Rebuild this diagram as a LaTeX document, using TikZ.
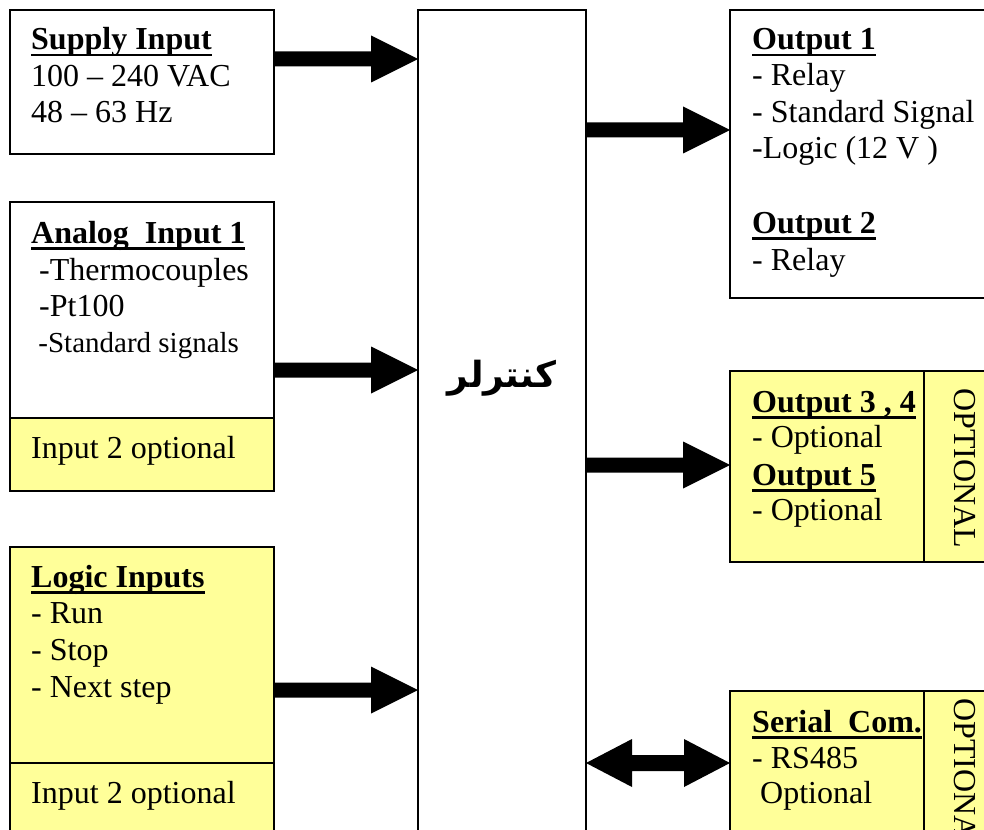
\documentclass[tikz,border=0pt]{standalone}
\usepackage{fontspec}
\setmainfont{Liberation Serif}
\newfontfamily\arabicfont[Script=Arabic]{DejaVu Sans}
\TeXXeTstate=1
\usetikzlibrary{calc}
\definecolor{optyellow}{HTML}{FFFF99}
\newcommand\ulbf[1]{\setbox0\hbox{\bfseries #1}\rlap{\rule[-6.5pt]{\wd0}{2.6pt}}\box0}
\newcommand\txtline[4]{\node[txt] (#1) at (#2,#3) {#4};}
\begin{document}
\begin{tikzpicture}[x=1pt,y=-1pt,
  box/.style={draw, line width=1.2pt, inner sep=0pt, outer sep=0pt, anchor=north west},
  txt/.style={anchor=base west, inner sep=0pt, font=\fontsize{32}{36}\selectfont},
  vtxt/.style={anchor=base west, inner sep=0pt, rotate=-90, font=\fontsize{32}{36}\selectfont},
  fat/.style={fill=black, to path={let \p1=(\tikztostart), \p2=(\tikztotarget) in
    (\x1,\y1+7.5pt) -- (\x2-47pt,\y1+7.5pt) -- (\x2-47pt,\y1+23.5pt) -- (\x2,\y1)
    -- (\x2-47pt,\y1-23.5pt) -- (\x2-47pt,\y1-7.5pt) -- (\x1,\y1-7.5pt) -- cycle}},
  fatboth/.style={fill=black, to path={let \p1=(\tikztostart), \p2=(\tikztotarget) in
    (\x1,\y1) -- (\x1+46pt,\y1+24pt) -- (\x1+46pt,\y1+8pt) -- (\x2-46pt,\y1+8pt)
    -- (\x2-46pt,\y1+24pt) -- (\x2,\y1) -- (\x2-46pt,\y1-24pt) -- (\x2-46pt,\y1-8pt)
    -- (\x1+46pt,\y1-8pt) -- (\x1+46pt,\y1-24pt) -- cycle}}
]
\useasboundingbox (0,0) rectangle (984,829);
\clip (0,0) rectangle (984,829);
\fill[white] (0,0) rectangle (984,829);

% boxes
\node[box, minimum width=264pt, minimum height=144pt] (sup) at (10,10) {};
\node[box, minimum width=264pt, minimum height=289pt] (ana) at (10,202) {};
\node[box, fill=optyellow, minimum width=264pt, minimum height=73pt] (ana2) at (10,418) {};
\node[box, fill=optyellow, minimum width=264pt, minimum height=216pt] (logic) at (10,547) {};
\node[box, fill=optyellow, minimum width=264pt, minimum height=80pt] (logic2) at (10,763) {};
\node[box, minimum width=168pt, minimum height=840pt] (ctrl) at (418,10) {};
\node[box, minimum width=270pt, minimum height=288pt] (out1) at (730,10) {};
\node[box, fill=optyellow, minimum width=194pt, minimum height=191pt] (out3) at (730,371) {};
\node[box, fill=optyellow, minimum width=70pt, minimum height=191pt] (out3opt) at (924,371) {};
\node[box, fill=optyellow, minimum width=194pt, minimum height=150pt] (ser) at (730,691) {};
\node[box, fill=optyellow, minimum width=70pt, minimum height=150pt] (seropt) at (924,691) {};

% texts
\txtline{t1}{31}{50}{\ulbf{Supply Input}}
\txtline{t2}{31}{87}{100 – 240 VAC}
\txtline{t3}{31}{123}{48 – 63 Hz}

\txtline{a1}{31}{243}{\ulbf{Analog~~Input 1}}
\txtline{a2}{31}{280}{~-Thermocouples}
\txtline{a3}{31}{316}{~-Pt100}
\node[txt, font=\fontsize{29}{34}\selectfont] (a4) at (31,352) {~-Standard signals};
\txtline{a5}{31}{458}{Input 2 optional}

\txtline{l1}{31}{587}{\ulbf{Logic Inputs}}
\txtline{l2}{31}{623}{- Run}
\txtline{l3}{31}{660}{- Stop}
\txtline{l4}{31}{697}{- Next step}
\txtline{l5}{31}{803}{Input 2 optional}

\txtline{o1}{752}{50}{\ulbf{Output 1}}
\txtline{o2}{752}{86}{- Relay}
\txtline{o3}{752}{123}{- Standard Signal}
\txtline{o4}{752}{159}{-Logic (12 V )}
\txtline{o5}{752}{233}{\ulbf{Output 2}}
\txtline{o6}{752}{270}{- Relay}

\txtline{p1}{752}{412}{\ulbf{Output 3 , 4}}
\txtline{p2}{752}{447}{- Optional}
\txtline{p3}{752}{485}{\ulbf{Output 5}}
\txtline{p4}{752}{520}{- Optional}
\node[vtxt] (p5) at (954,388) {OPTIONAL};

\txtline{s1}{752}{732}{\ulbf{Serial~~Com.}}
\txtline{s2}{752}{768}{- RS485}
\txtline{s3}{752}{803}{~Optional}
\node[vtxt] (s4) at (954,698) {OPTIONAL};

\node[inner sep=0pt, font=\arabicfont\bfseries\fontsize{36}{40}\selectfont] (ctrltxt) at (502,378) {\beginR کنترلر\endR};

% arrows
\coordinate (ya) at (0,59);
\coordinate (yb) at (0,370);
\coordinate (yc) at (0,690);
\coordinate (yd) at (0,130);
\coordinate (ye) at (0,465);
\coordinate (yf) at (0,763);
\path[fat] (sup.east |- ya) to (ctrl.west |- ya);
\path[fat] (ana.east |- yb) to (ctrl.west |- yb);
\path[fat] (logic.east |- yc) to (ctrl.west |- yc);
\path[fat] (ctrl.east |- yd) to (out1.west |- yd);
\path[fat] (ctrl.east |- ye) to (out3.west |- ye);
\path[fatboth] (ctrl.east |- yf) to (ser.west |- yf);
\end{tikzpicture}
\end{document}
